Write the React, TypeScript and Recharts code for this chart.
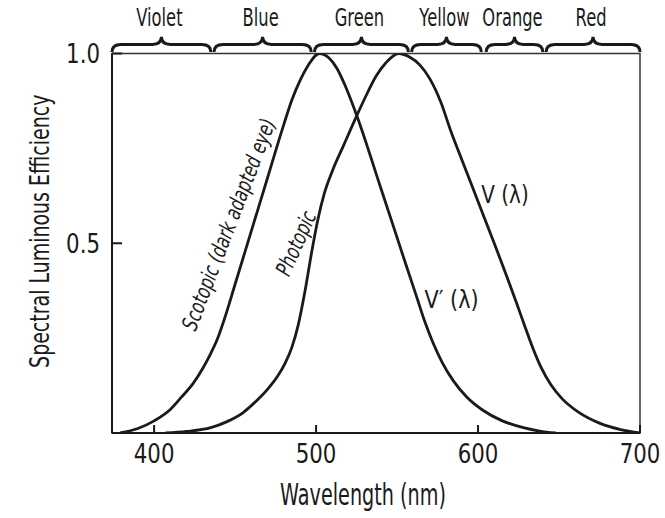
import React from "react";
import {
  LineChart,
  Line,
  XAxis,
  YAxis,
  ReferenceArea,
  ReferenceDot,
} from "recharts";

// wavelength (nm) and relative efficiency
const scotopicNm = [379, 390, 400, 410, 417, 424, 430, 435, 439, 443, 450, 460, 470, 480, 485, 490, 495, 502, 508, 513, 518, 525, 540, 555, 562, 567, 572, 578, 585, 593, 603, 615, 628, 638, 648];
const scotopicVal = [0, 0.012, 0.032, 0.062, 0.095, 0.13, 0.17, 0.21, 0.247, 0.295, 0.392, 0.532, 0.672, 0.812, 0.877, 0.928, 0.968, 1.0, 0.988, 0.96, 0.915, 0.838, 0.645, 0.45, 0.36, 0.295, 0.24, 0.185, 0.136, 0.095, 0.06, 0.032, 0.014, 0.005, 0];

const photopicNm = [407, 420, 435, 445, 455, 462, 470, 476, 481, 485, 489, 493, 497, 501, 505, 510, 517, 525, 531, 537, 543, 551, 558, 564, 570, 577, 583, 590, 600, 610, 618, 624, 629, 634, 639, 645, 652, 662, 675, 688, 700];
const photopicVal = [0, 0.004, 0.014, 0.03, 0.054, 0.08, 0.115, 0.148, 0.185, 0.225, 0.285, 0.37, 0.47, 0.56, 0.63, 0.69, 0.758, 0.835, 0.89, 0.94, 0.975, 1.0, 0.99, 0.97, 0.935, 0.872, 0.798, 0.72, 0.61, 0.5, 0.41, 0.34, 0.28, 0.222, 0.172, 0.127, 0.09, 0.055, 0.026, 0.009, 0];

const bandNames = ["Violet", "Blue", "Green", "Yellow", "Orange", "Red"];
const bandStart = [374, 437, 499, 559, 605, 642];
const bandEnd = [435, 497, 557, 602, 640, 700];

const xTicks = [400, 500, 600, 700];
const yTicks = [0.5, 1.0];

const scotopic = scotopicNm.map((nm, i) => ({ nm, v: scotopicVal[i] }));
const photopic = photopicNm.map((nm, i) => ({ nm, v: photopicVal[i] }));

const FONT = "'DejaVu Sans', sans-serif";
const INK = "#1a1a1a";

// the reference uses a condensed face, so squeeze the text horizontally
function CText(props: any) {
  const { x, y, sx, size, anchor = "middle", angle = 0, italic = false, dy, children } = props;
  return (
    <text
      transform={`translate(${x} ${y}) rotate(${angle}) scale(${sx} 1)`}
      textAnchor={anchor}
      dy={dy}
      fontFamily={FONT}
      fontSize={size}
      fontStyle={italic ? "italic" : "normal"}
      fill={INK}
    >
      {children}
    </text>
  );
}

function XTick(props: any) {
  const { x, y, payload } = props;
  return (
    <CText x={x} y={y} sx={0.79} size={27} dy="0.71em">
      {payload.value}
    </CText>
  );
}

function YTick(props: any) {
  const { x, y, payload } = props;
  return (
    <CText x={x} y={y} sx={0.79} size={27} anchor="end" dy="0.36em">
      {payload.value.toFixed(1)}
    </CText>
  );
}

function XTitle(props: any) {
  const { viewBox } = props;
  return (
    <CText x={viewBox.x + viewBox.width / 2 - 13} y={viewBox.y + 72} sx={0.64} size={30}>
      Wavelength (nm)
    </CText>
  );
}

function YTitle(props: any) {
  const { viewBox } = props;
  return (
    <CText x={viewBox.x + 49} y={viewBox.y + viewBox.height / 2 - 12} sx={0.73} size={26} angle={-90}>
      Spectral Luminous Efficiency
    </CText>
  );
}

function Brace(props: any) {
  const { x, y, width, height, name } = props;
  const yb = y + height;
  const ym = y + height * 0.5;
  const mid = x + width / 2;
  const q = 9;
  const d = `M${x},${yb} Q${x},${ym} ${x + q},${ym} L${mid - q},${ym} Q${mid},${ym} ${mid},${y} Q${mid},${ym} ${mid + q},${ym} L${x + width - q},${ym} Q${x + width},${ym} ${x + width},${yb}`;
  return (
    <g>
      <path d={d} fill="none" stroke={INK} strokeWidth={3} />
      <CText x={mid - 2} y={y - 11} sx={0.68} size={24}>
        {name}
      </CText>
    </g>
  );
}

function curveLabel(text: string, angle: number, italic: boolean, sx: number) {
  return (p: any) =>
    italic ? (
      <CText x={p.cx} y={p.cy} sx={sx} size={22} angle={angle} italic dy="0.35em">
        {text}
      </CText>
    ) : (
      <CText x={p.cx} y={p.cy} sx={sx} size={25} anchor="start">
        {text}
      </CText>
    );
}

export default function App() {
  return (
    <div style={{ position: "absolute", left: 0, top: 0, background: "#fff" }}>
      <LineChart width={665} height={518} margin={{ top: 53.5, right: 25, left: 0, bottom: 0 }}>
        <XAxis
          type="number"
          dataKey="nm"
          domain={[374, 700]}
          ticks={xTicks}
          height={85}
          tickSize={-8}
          tickMargin={19}
          stroke={INK}
          strokeWidth={2}
          tick={<XTick />}
          label={<XTitle />}
        />
        <YAxis
          type="number"
          domain={[0, 1]}
          ticks={yTicks}
          width={112}
          tickSize={-10}
          tickMargin={22}
          stroke={INK}
          strokeWidth={2}
          tick={<YTick />}
          allowDataOverflow
          label={<YTitle />}
        />
        <ReferenceArea x1={374} x2={700} y1={0} y2={1} fill="none" stroke="#333" strokeWidth={1.5} ifOverflow="visible" />
        {bandNames.map((name, i) => (
          <ReferenceArea
            key={name}
            x1={bandStart[i]}
            x2={bandEnd[i]}
            y1={1.004}
            y2={1.044}
            ifOverflow="visible"
            shape={(p: any) => <Brace {...p} name={name} />}
          />
        ))}
        <Line data={scotopic} dataKey="v" type="monotone" stroke={INK} strokeWidth={2.8} dot={false} isAnimationActive={false} />
        <Line data={photopic} dataKey="v" type="monotone" stroke={INK} strokeWidth={2.8} dot={false} isAnimationActive={false} />
        <ReferenceDot x={446} y={0.55} r={0} ifOverflow="visible" shape={curveLabel("Scotopic (dark adapted eye)", -69, true, 0.72)} />
        <ReferenceDot x={487.5} y={0.5} r={0} ifOverflow="visible" shape={curveLabel("Photopic", -66, true, 0.72)} />
        <ReferenceDot x={602} y={0.606} r={0} ifOverflow="visible" shape={curveLabel("V (λ)", 0, false, 0.8)} />
        <ReferenceDot x={567} y={0.329} r={0} ifOverflow="visible" shape={curveLabel("V′ (λ)", 0, false, 0.83)} />
      </LineChart>
    </div>
  );
}
